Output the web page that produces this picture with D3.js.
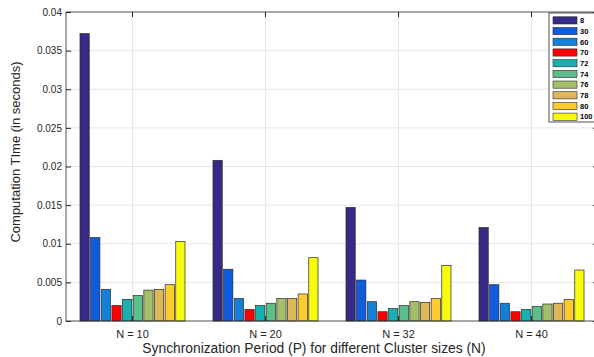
<!DOCTYPE html>
<html>
<head>
<meta charset="utf-8">
<script src="https://cdn.jsdelivr.net/npm/d3@7"></script>
<style>
  body { margin: 0; background: #fff; }
  svg { font-family: "Liberation Sans", Arial, sans-serif; }
  .grid line { stroke: #e6e6e6; }
</style>
</head>
<body>
<svg id="chart" width="594" height="357"></svg>
<script>
// categories on the x axis
const groups = ['N = 10', 'N = 20', 'N = 32', 'N = 40'];
// synchronization periods (legend entries)
const periods = ['8', '30', '60', '70', '72', '74', '76', '78', '80', '100'];
// computation time per period, one value per group
const p8   = [0.0372, 0.0208, 0.0147, 0.0121];
const p30  = [0.0108, 0.0067, 0.0053, 0.0047];
const p60  = [0.0041, 0.0029, 0.0025, 0.0023];
const p70  = [0.0020, 0.0015, 0.0012, 0.0012];
const p72  = [0.0028, 0.0020, 0.0016, 0.0015];
const p74  = [0.0033, 0.0023, 0.0020, 0.0019];
const p76  = [0.0040, 0.0029, 0.0025, 0.0022];
const p78  = [0.0041, 0.0029, 0.0024, 0.0023];
const p80  = [0.0047, 0.0035, 0.0029, 0.0028];
const p100 = [0.0103, 0.0082, 0.0072, 0.0066];
const series = [p8, p30, p60, p70, p72, p74, p76, p78, p80, p100];
const yTicks = [0, 0.005, 0.01, 0.015, 0.02, 0.025, 0.03, 0.035, 0.04];
const yTickLabels = ['0', '0.005', '0.01', '0.015', '0.02', '0.025', '0.03', '0.035', '0.04'];

const colors = ['#352a87', '#0f5cdd', '#1481d6', '#ff0000', '#16b2b2',
                '#5cbe8b', '#a5be6a', '#ddb758', '#fdcb2d', '#f9fb0e'];

const margin = { top: 12, right: -4, bottom: 36, left: 66 };
const width = 594, height = 357;
const svg = d3.select('#chart');

const x = d3.scaleBand().domain(groups)
  .range([margin.left, width - margin.right])
  .paddingInner(0.2).paddingOuter(0.1);
const xInner = d3.scaleBand().domain(periods)
  .range([0, x.bandwidth()]).paddingInner(0.13).paddingOuter(0.065);
const y = d3.scaleLinear().domain([0, 0.04])
  .range([height - margin.bottom, margin.top]);

const x0 = margin.left, x1 = width - margin.right;
const yBottom = y(0), yTop = y(0.04);

// grid lines
const grid = svg.append('g').attr('class', 'grid');
grid.selectAll('.gy').data(yTicks.slice(1, -1)).enter().append('line')
  .attr('x1', x0).attr('x2', x1)
  .attr('y1', d => y(d)).attr('y2', d => y(d));
grid.selectAll('.gx').data(groups).enter().append('line')
  .attr('x1', d => x(d) + x.bandwidth() / 2).attr('x2', d => x(d) + x.bandwidth() / 2)
  .attr('y1', yTop).attr('y2', yBottom);

// bars
const gBars = svg.append('g');
series.forEach((vals, si) => {
  gBars.selectAll('.b' + si).data(vals).enter().append('rect')
    .attr('x', (d, gi) => x(groups[gi]) + xInner(periods[si]))
    .attr('y', d => y(d))
    .attr('width', xInner.bandwidth())
    .attr('height', d => y(0) - y(d))
    .attr('fill', colors[si])
    .attr('stroke', '#2b2b2b')
    .attr('stroke-width', 0.7);
});

// axes (ticks pointing inward, like the original box)
const axisColor = '#262626';
const yAxis = d3.axisLeft(y).tickValues(yTicks)
  .tickFormat((d, i) => yTickLabels[i]).tickSizeInner(-5).tickSizeOuter(0).tickPadding(4);
const gy = svg.append('g').attr('transform', `translate(${x0},0)`).call(yAxis);
gy.select('.domain').remove();
gy.selectAll('line').attr('stroke', axisColor);
gy.selectAll('text').attr('font-size', 10).attr('fill', axisColor);

const yAxisR = d3.axisRight(y).tickValues(yTicks).tickFormat('').tickSizeInner(-5).tickSizeOuter(0);
const gyr = svg.append('g').attr('transform', `translate(${x1},0)`).call(yAxisR);
gyr.select('.domain').remove();
gyr.selectAll('line').attr('stroke', axisColor);

const xAxis = d3.axisBottom(x).tickSizeInner(-5).tickSizeOuter(0).tickPadding(9);
const gx = svg.append('g').attr('transform', `translate(0,${yBottom})`).call(xAxis);
gx.select('.domain').remove();
gx.selectAll('line').attr('stroke', axisColor);
gx.selectAll('text').attr('font-size', 11).attr('fill', axisColor);

const xAxisT = d3.axisTop(x).tickFormat('').tickSizeInner(-5).tickSizeOuter(0);
const gxt = svg.append('g').attr('transform', `translate(0,${yTop})`).call(xAxisT);
gxt.select('.domain').remove();
gxt.selectAll('line').attr('stroke', axisColor);

// box
svg.append('rect').attr('x', x0).attr('y', yTop)
  .attr('width', x1 - x0).attr('height', yBottom - yTop)
  .attr('fill', 'none').attr('stroke', axisColor).attr('stroke-width', 0.8);

// axis titles
svg.append('text').attr('x', 314).attr('y', 353)
  .attr('text-anchor', 'middle').attr('font-size', 13.8).attr('fill', axisColor)
  .text('Synchronization Period (P) for different Cluster sizes (N)');
svg.append('text').attr('transform', 'translate(20,152) rotate(-90)')
  .attr('text-anchor', 'middle').attr('font-size', 13).attr('fill', axisColor)
  .text('Computation TIme (in seconds)');

// legend
const lg = svg.append('g').attr('transform', 'translate(549,13)');
lg.append('rect').attr('width', 50).attr('height', 109)
  .attr('fill', '#fff').attr('stroke', '#262626').attr('stroke-width', 0.8);
const ly = d3.scaleBand().domain(periods).range([2, 109]);
periods.forEach((p, i) => {
  lg.append('rect').attr('x', 4).attr('y', ly(p) + 1.8)
    .attr('width', 24).attr('height', 7.2)
    .attr('fill', colors[i]).attr('stroke', '#2b2b2b').attr('stroke-width', 0.6);
  lg.append('text').attr('x', 31).attr('y', ly(p) + ly.bandwidth() / 2 + 2.8)
    .attr('font-size', 7.5).attr('font-weight', 'bold').attr('fill', '#000')
    .text(p);
});
</script>
</body>
</html>
